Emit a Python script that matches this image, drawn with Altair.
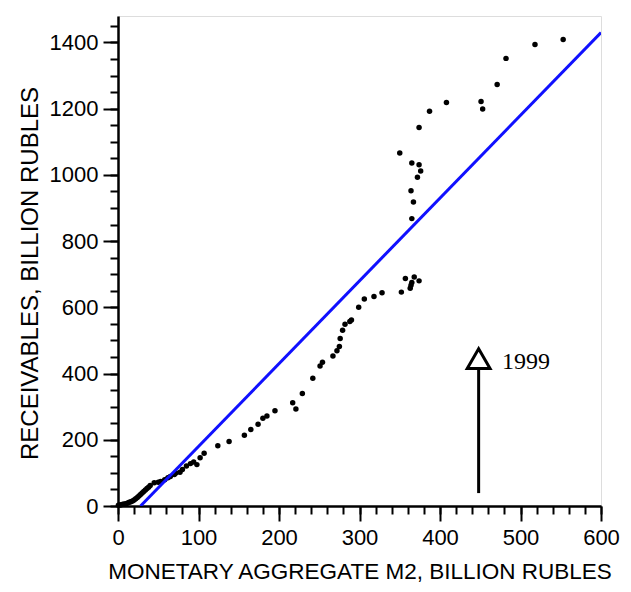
import altair as alt
import pandas as pd

# Scatter: M2 (x) vs receivables (y), billion rubles
m2 = [0.5, 2, 4, 6, 8, 10, 12, 14, 16, 18, 20, 22, 24, 26, 28, 30, 32, 34, 36, 38,
      40, 45, 50, 53, 58, 62, 65, 70, 72, 77, 80, 85, 90, 94, 98, 102, 107, 124, 138,
      157, 165, 174, 180, 185, 195, 217, 221, 229, 242, 251, 254, 267, 272, 275, 276,
      279, 282, 288, 290, 299, 306, 318, 328, 352, 357, 363, 364, 365, 368, 374,
      365, 367, 364, 372, 376, 374, 365, 350, 374, 387, 408, 451, 453, 471, 482, 518, 553]
recv = [2, 3, 4, 5, 6, 7, 9, 11, 13, 15, 18, 22, 26, 30, 35, 39, 44, 48, 53, 57,
        62, 70, 72, 74, 79, 85, 89, 95, 100, 102, 110, 121, 128, 133, 125, 146, 159, 182, 195,
        214, 231, 247, 265, 272, 288, 312, 293, 340, 386, 423, 434, 453, 469, 482, 506,
        531, 549, 557, 562, 600, 625, 633, 644, 646, 687, 658, 667, 675, 692, 680,
        868, 918, 952, 993, 1012, 1031, 1036, 1066, 1143, 1192, 1219, 1222, 1199, 1273, 1352, 1394, 1409]

# Fitted line endpoints
fit_x = [28, 600]
fit_y = [0, 1430]

# Arrow annotation
arrow_x = [448, 448]
arrow_y = [39, 418]
head_x = [448]
head_y = [445]
label_x = [477]
label_y = [435]
label_text = ["1999"]

# Axis tick values
x_major = [0, 100, 200, 300, 400, 500, 600]
x_minor = list(range(0, 601, 20))
y_major = [0, 200, 400, 600, 800, 1000, 1200, 1400]
y_minor = list(range(0, 1451, 50))

pts = pd.DataFrame({"x": m2, "y": recv})
fit = pd.DataFrame({"x": fit_x, "y": fit_y})
arrow = pd.DataFrame({"x": arrow_x, "y": arrow_y})
head = pd.DataFrame({"x": head_x, "y": head_y})
lab = pd.DataFrame({"x": label_x, "y": label_y, "t": label_text})

xs = alt.Scale(domain=[0, 600], nice=False, zero=False)
ys = alt.Scale(domain=[0, 1480], nice=False, zero=False)

FONT = "Liberation Sans"

xaxis = alt.Axis(
    orient="bottom", values=x_major, format="d", tickSize=15,
    tickColor="black", tickWidth=2, domainColor="black", domainWidth=2.5,
    labelFont=FONT, labelFontSize=22, labelColor="black", labelPadding=6,
    labelFlush=False, labelOverlap=False,
    title="MONETARY AGGREGATE M2, BILLION RUBLES", titleFont=FONT,
    titleFontSize=22.5, titleFontWeight="normal", titleColor="black", titlePadding=12,
    grid=False,
)
yaxis = alt.Axis(
    orient="left", values=y_major, format="d", tickSize=15,
    tickColor="black", tickWidth=2, domainColor="black", domainWidth=2.5,
    labelFont=FONT, labelFontSize=22, labelColor="black", labelPadding=5,
    labelFlush=False, labelOverlap=False,
    title="RECEIVABLES, BILLION RUBLES", titleFont=FONT,
    titleFontSize=24, titleFontWeight="normal", titleColor="black", titlePadding=7,
    titleY=257, grid=False,
)
xminor = alt.Axis(orient="bottom", values=x_minor, tickSize=8, labels=False, title=None,
                  tickColor="black", tickWidth=2, domain=False, grid=False)
yminor = alt.Axis(orient="left", values=y_minor, tickSize=8, labels=False, title=None,
                  tickColor="black", tickWidth=2, domain=False, grid=False)

minor = alt.Chart(fit).mark_point(opacity=0).encode(
    x=alt.X("x:Q", scale=xs, axis=xminor),
    y=alt.Y("y:Q", scale=ys, axis=yminor),
)
points = alt.Chart(pts).mark_circle(size=30, color="black", opacity=1).encode(
    x=alt.X("x:Q", scale=xs, axis=xaxis),
    y=alt.Y("y:Q", scale=ys, axis=yaxis),
)
line = alt.Chart(fit).mark_line(color="#1010ff", strokeWidth=3, clip=True).encode(
    x=alt.X("x:Q", scale=xs), y=alt.Y("y:Q", scale=ys)
)
arr = alt.Chart(arrow).mark_line(color="black", strokeWidth=3).encode(
    x=alt.X("x:Q", scale=xs), y=alt.Y("y:Q", scale=ys)
)
tri = alt.Chart(head).mark_point(shape="triangle-up", size=520, filled=True,
                                  fill="white", stroke="black", strokeWidth=3,
                                  opacity=1).encode(
    x=alt.X("x:Q", scale=xs), y=alt.Y("y:Q", scale=ys)
)
txt = alt.Chart(lab).mark_text(font="Liberation Serif", fontSize=24, align="left",
                               baseline="middle", color="black").encode(
    x=alt.X("x:Q", scale=xs), y=alt.Y("y:Q", scale=ys), text="t:N"
)

main = alt.layer(points, line, arr, tri, txt)

chart = alt.layer(minor, main).resolve_scale(x="independent", y="independent").properties(
    width=483, height=490,
    autosize=alt.AutoSizeParams(type="none"),
    padding={"left": 110, "top": 8, "right": 22, "bottom": 78},
).configure_view(stroke="black", strokeWidth=2.5).configure(background="white")

chart.save("out.html", embed_options={"renderer": "svg", "actions": False})
